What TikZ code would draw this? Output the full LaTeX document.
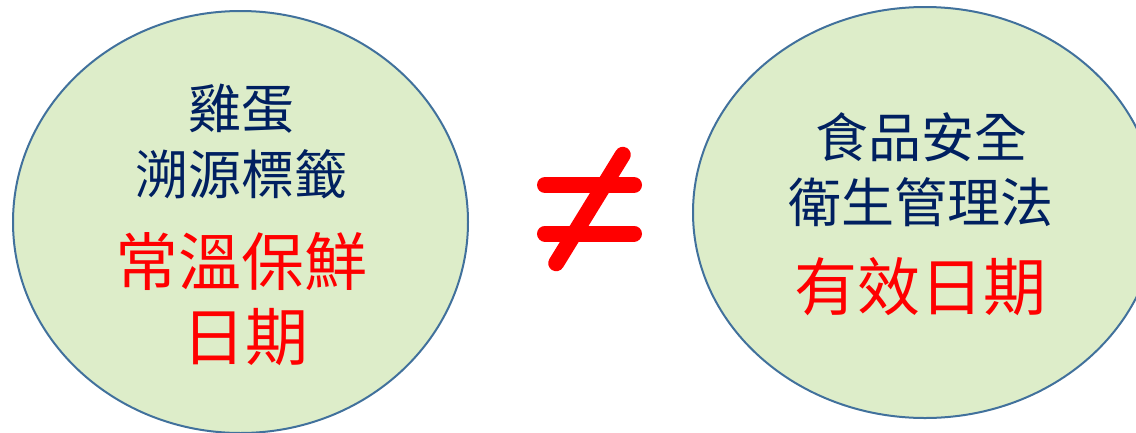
\documentclass[tikz,border=0pt]{standalone}
\usepackage{fontspec}
\newfontfamily\cjk{Noto Sans CJK TC}
\usetikzlibrary{shapes.geometric}
\definecolor{eggGreen}{RGB}{221,237,201}
\definecolor{eggBlue}{RGB}{65,113,156}
\definecolor{eggNavy}{RGB}{0,32,96}
\definecolor{eggRed}{RGB}{255,0,0}

\begin{document}
\begin{tikzpicture}[x=1pt,y=-1pt,
    bubble/.style={ellipse, draw=eggBlue, fill=eggGreen, line width=2pt, inner sep=0pt},
    navytext/.style={text=eggNavy, inner sep=0pt, font=\cjk\fontsize{53}{53}\selectfont},
    redtext/.style={text=eggRed, inner sep=0pt, font=\cjk\fontsize{63}{63}\selectfont},
    neqbar/.style={draw=eggRed, line width=16pt, line cap=round}]
    \useasboundingbox (0,0) rectangle (1136,432);
    \clip (0,0) rectangle (1136,432);

    % left bubble
    \node[bubble, minimum width=455pt, minimum height=422pt] (egg) at (240.5,222) {};
    \node[navytext] (eggA) at (241,109) {雞蛋};
    \node[navytext] (eggB) at (241,174) {溯源標籤};
    \node[redtext] (eggC) at (241,262) {常溫保鮮};
    \node[redtext] (eggD) at (245,337) {日期};

    % not equal sign
    \draw[neqbar] (545,185) -- (634,185);
    \draw[neqbar] (545,233.5) -- (634,233.5);
    \draw[neqbar] (556.2,263.2) -- (622.8,154.8);

    % right bubble
    \node[bubble, minimum width=464pt, minimum height=411pt] (law) at (925,212.5) {};
    \node[navytext] (lawA) at (921,137) {食品安全};
    \node[navytext] (lawB) at (921,202) {衛生管理法};
    \node[redtext] (lawC) at (920,287) {有效日期};
\end{tikzpicture}
\end{document}
